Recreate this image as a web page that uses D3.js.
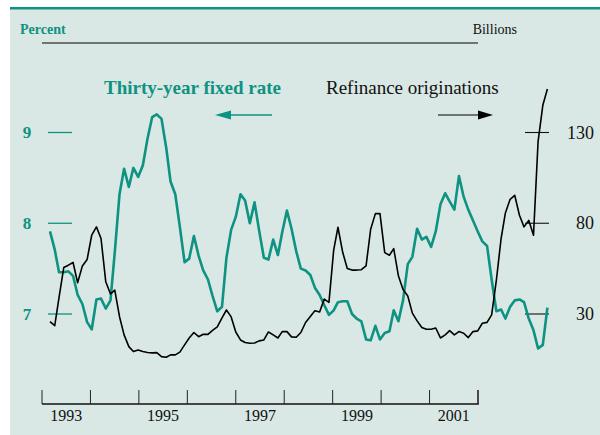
<!DOCTYPE html>
<html>
	<head>
		<script src="https://d3js.org/d3.v7.min.js"></script>
		<title>Mortgage rates and refinancing</title>
		<style>
			body { margin: 0; background: #fff; }
			text { font-family: "Liberation Serif", "Times New Roman", serif; }
		</style>
	</head>
	<body>
		<svg width="600" height="435"></svg>
		<script>
			// monthly data, Jan 1993 - Dec 2001
			const startYear = 1993;
			const fixedRate = [
				7.91, 7.71, 7.46, 7.46, 7.47, 7.42, 7.21, 7.11, 6.91, 6.83, 7.16, 7.17,
				7.06, 7.15, 7.68, 8.32, 8.60, 8.40, 8.61, 8.51, 8.64, 8.93, 9.17, 9.20,
				9.15, 8.83, 8.46, 8.32, 7.96, 7.57, 7.61, 7.86, 7.64, 7.48, 7.38, 7.20,
				7.03, 7.08, 7.62, 7.93, 8.07, 8.32, 8.25, 8.00, 8.23, 7.92, 7.62, 7.60,
				7.82, 7.65, 7.90, 8.14, 7.94, 7.69, 7.50, 7.48, 7.43, 7.29, 7.21, 7.10,
				6.99, 7.04, 7.13, 7.14, 7.14, 7.00, 6.95, 6.92, 6.72, 6.71, 6.87, 6.72,
				6.79, 6.81, 7.04, 6.92, 7.15, 7.55, 7.63, 7.94, 7.82, 7.85, 7.74, 7.91,
				8.21, 8.33, 8.24, 8.15, 8.52, 8.29, 8.15, 8.03, 7.91, 7.80, 7.75, 7.38,
				7.03, 7.05, 6.95, 7.08, 7.15, 7.16, 7.13, 6.95, 6.82, 6.62, 6.66, 7.07
			];
			const refinance = [
				25.8, 23.6, 39.0, 55.6, 56.9, 58.4, 47.2, 56.5, 60.0, 73.4, 78.0, 71.6,
				47.8, 41.0, 43.2, 28.5, 18.5, 12.0, 9.3, 10.2, 9.3, 8.8, 8.6, 8.7,
				6.5, 6.2, 7.5, 7.5, 9.0, 13.0, 16.8, 19.8, 17.5, 18.8, 18.8, 21.0,
				22.9, 27.8, 32.2, 28.4, 20.1, 15.7, 14.3, 13.9, 14.0, 15.2, 15.7, 20.1,
				18.5, 16.8, 20.3, 20.3, 17.4, 17.2, 19.8, 25.3, 28.6, 31.8, 31.1, 38.2,
				36.4, 65.2, 77.8, 64.0, 55.1, 54.2, 54.2, 54.4, 56.5, 76.7, 85.3, 85.3,
				63.8, 62.4, 66.0, 50.9, 43.5, 39.9, 30.5, 26.2, 22.6, 21.6, 21.6, 22.3,
				16.8, 18.5, 20.8, 18.5, 20.3, 19.4, 17.0, 20.3, 20.7, 24.9, 25.4, 29.5,
				48.7, 71.6, 85.7, 93.2, 95.4, 84.4, 78.0, 81.6, 73.4, 125.0, 145.0, 154.0
			];
			const leftTicks = [7, 8, 9];
			const rightTicks = [30, 80, 130];
			const yearTicks = [1993, 1994, 1995, 1996, 1997, 1998, 1999, 2000, 2001, 2002];
			const yearLabels = [1993, 1995, 1997, 1999, 2001];

			const teal = "#0e9282";
			const svg = d3.select("svg");

			// panel
			svg.append("rect").attr("x", 10).attr("y", 8).attr("width", 590).attr("height", 427).attr("fill", "#d9e8e4");
			svg.append("rect").attr("x", 10).attr("y", 7).attr("width", 590).attr("height", 2.5).attr("fill", teal);
			svg.append("line").attr("x1", 42).attr("x2", 478).attr("y1", 43).attr("y2", 43)
				.attr("stroke", "#6e7573").attr("stroke-width", 2);

			svg.append("text").attr("x", 20).attr("y", 34).attr("fill", teal)
				.attr("font-size", 14).attr("font-weight", "bold").text("Percent");
			svg.append("text").attr("x", 517).attr("y", 34).attr("text-anchor", "end")
				.attr("font-size", 14).attr("fill", "#111").text("Billions");

			const dates = fixedRate.map((d, i) => new Date(startYear, i, 1));

			const x = d3.scaleTime()
				.domain([dates[0], dates[dates.length - 1]])
				.range([50, 547.4]);
			const yL = d3.scaleLinear().domain([7, 9]).range([314, 132.5]);
			const yR = d3.scaleLinear().domain([30, 130]).range([314, 132.5]);
			const xAxisScale = d3.scaleLinear().domain([1993, 2002]).range([42, 478]);

			// left ticks
			svg.append("g").selectAll("line").data(leftTicks).enter().append("line")
				.attr("x1", 48).attr("x2", 72)
				.attr("y1", d => yL(d)).attr("y2", d => yL(d))
				.attr("stroke", teal).attr("stroke-width", 1.3);
			svg.append("g").selectAll("text").data(leftTicks).enter().append("text")
				.attr("x", 27).attr("y", d => yL(d) + 5.5)
				.attr("text-anchor", "middle").attr("font-size", 17).attr("font-weight", "bold")
				.attr("fill", teal).text(d => d);

			// right ticks
			svg.append("g").selectAll("line").data(rightTicks).enter().append("line")
				.attr("x1", 525).attr("x2", 549)
				.attr("y1", d => yR(d)).attr("y2", d => yR(d))
				.attr("stroke", "#111").attr("stroke-width", 1.1);
			svg.append("g").selectAll("text").data(rightTicks).enter().append("text")
				.attr("x", 594).attr("y", d => yR(d) + 6)
				.attr("text-anchor", "end").attr("font-size", 18)
				.attr("fill", "#111").text(d => d);

			// bottom axis
			const gx = svg.append("g");
			gx.append("line").attr("x1", xAxisScale(1993)).attr("x2", xAxisScale(2002) + 0.75)
				.attr("y1", 404).attr("y2", 404).attr("stroke", "#111").attr("stroke-width", 1.5);
			gx.selectAll("line.tick").data(yearTicks).enter().append("line").attr("class", "tick")
				.attr("x1", d => xAxisScale(d)).attr("x2", d => xAxisScale(d))
				.attr("y1", 390).attr("y2", 404)
				.attr("stroke", "#222").attr("stroke-width", (d, i) => i === yearTicks.length - 1 ? 1.6 : 1);
			gx.selectAll("text").data(yearLabels).enter().append("text")
				.attr("x", d => xAxisScale(d + 0.5)).attr("y", 421)
				.attr("text-anchor", "middle").attr("font-size", 16).attr("fill", "#111")
				.text(d => d);

			// lines
			const rateLine = d3.line().x((d, i) => x(dates[i])).y(d => yL(d));
			const refiLine = d3.line().x((d, i) => x(dates[i])).y(d => yR(d));

			svg.append("path").datum(fixedRate).attr("d", rateLine)
				.attr("fill", "none").attr("stroke", teal).attr("stroke-width", 2.6)
				.attr("stroke-linejoin", "round");
			svg.append("path").datum(refinance).attr("d", refiLine)
				.attr("fill", "none").attr("stroke", "#000").attr("stroke-width", 1.6)
				.attr("stroke-linejoin", "round");

			// labels with arrows
			svg.append("text").attr("x", 104).attr("y", 94).attr("font-size", 19)
				.attr("font-weight", "bold").attr("fill", teal).text("Thirty-year fixed rate");
			svg.append("line").attr("x1", 226).attr("x2", 272).attr("y1", 115).attr("y2", 115)
				.attr("stroke", teal).attr("stroke-width", 1.3);
			svg.append("path").attr("d", "M215,115 L231,110.5 L231,119.5 Z").attr("fill", teal);

			svg.append("text").attr("x", 326).attr("y", 94).attr("font-size", 19)
				.attr("fill", "#111").text("Refinance originations");
			svg.append("line").attr("x1", 438).attr("x2", 482).attr("y1", 115).attr("y2", 115)
				.attr("stroke", "#000").attr("stroke-width", 1.2);
			svg.append("path").attr("d", "M493,115 L478,110.5 L478,119.5 Z").attr("fill", "#000");
		</script>
	</body>
</html>
